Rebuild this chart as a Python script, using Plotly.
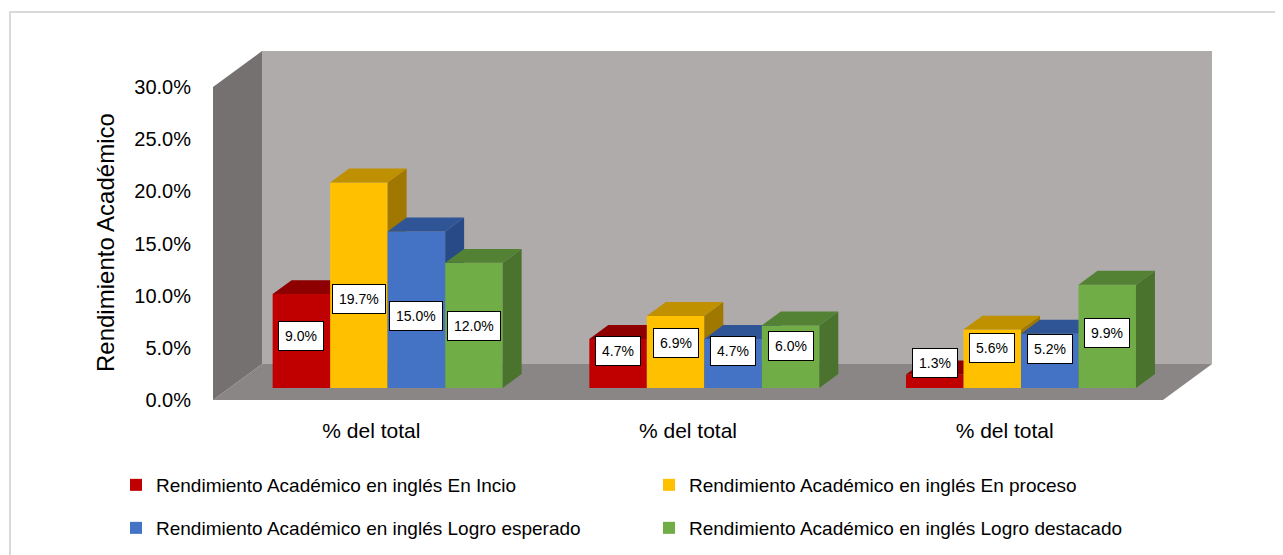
import plotly.graph_objects as go

# ---------------- data ----------------
categories = ["% del total", "% del total", "% del total"]
series_names = [
    "Rendimiento Académico en inglés En Incio",
    "Rendimiento Académico en inglés En proceso",
    "Rendimiento Académico en inglés Logro esperado",
    "Rendimiento Académico en inglés Logro destacado",
]
en_inicio = [9.0, 4.7, 1.3]
en_proceso = [19.7, 6.9, 5.6]
logro_esperado = [15.0, 4.7, 5.2]
logro_destacado = [12.0, 6.0, 9.9]
y_tick_values = [0, 5, 10, 15, 20, 25, 30]
y_tick_labels = ["0.0%", "5.0%", "10.0%", "15.0%", "20.0%", "25.0%", "30.0%"]
y_title = "Rendimiento Académico"

series_values = [en_inicio, en_proceso, logro_esperado, logro_destacado]

# ---------------- styles ----------------
front_colors = ["#C00000", "#FFC000", "#4472C4", "#70AD47"]
top_colors = ["#8E0000", "#BF9000", "#2F5597", "#548235"]
side_colors = ["#760000", "#A07800", "#284B87", "#4A732E"]
FONT = "Liberation Sans"

# ---------------- pseudo-3D geometry ----------------
OFF = 8                 # default page body margin
W, H = 1283 - OFF, 580  # page is cropped to the 1283x555 window
ML, MT = 213 - OFF, 40 - OFF
plot_w, plot_h = 1000, 370
MR = W - ML - plot_w
MB = H - MT - plot_h
PX_X = 316.67          # px per category (front plane)
PX_Y = 10.433          # px per percentage point
Y0_PX = 400 - OFF      # pixel row of 0 % on the front plane
KX = 49 / PX_X         # depth offset (x units) for full depth
KY = 36 / PX_Y         # depth offset (y units) for full depth
Z0, Z1 = 0.333, 0.72   # bar depth span
BW = 57.5 / PX_X       # bar width
GAP = (1 - 4 * BW) / 2
YMAX = y_tick_values[-1]
NCAT = len(categories)

x_range = [0, plot_w / PX_X]
y_range = [-(MT + plot_h - Y0_PX) / PX_Y, (Y0_PX - MT) / PX_Y]


def paper_x(ref_px):
    return (ref_px - OFF - ML) / plot_w


def paper_y(ref_px):
    return (MT + plot_h - (ref_px - OFF)) / plot_h


fig = go.Figure()


def poly(pts):
    xs = [p[0] for p in pts] + [pts[0][0]]
    ys = [p[1] for p in pts] + [pts[0][1]]
    return xs, ys


def add_poly(pts, color, xa="x", ya="y"):
    xs, ys = poly(pts)
    fig.add_trace(go.Scatter(x=xs, y=ys, mode="lines", fill="toself",
                             fillcolor=color, line=dict(width=0, color=color),
                             hoverinfo="skip", showlegend=False,
                             xaxis=xa, yaxis=ya))


# walls (base axes)
add_poly([(0, 0), (NCAT, 0), (NCAT + KX, KY), (KX, KY)], "#8A8685")          # floor
add_poly([(0, 0), (KX, KY), (KX, YMAX + KY), (0, YMAX)], "#767171")          # side wall
add_poly([(KX, KY), (NCAT + KX, KY), (NCAT + KX, YMAX + KY), (KX, YMAX + KY)], "#AFABAB")  # back wall

annotations = []
for j, (name, vals) in enumerate(zip(series_names, series_values)):
    xa = "x%d" % (j + 2)
    ya = "y%d" % (j + 2)
    xl = [i + GAP + j * BW for i in range(NCAT)]
    xr = [v + BW for v in xl]
    sx, sy, tx, ty = [], [], [], []
    for a, b, v in zip(xl, xr, vals):
        pts_s = [(b + Z0 * KX, Z0 * KY), (b + Z1 * KX, Z1 * KY),
                 (b + Z1 * KX, v + Z1 * KY), (b + Z0 * KX, v + Z0 * KY)]
        pts_t = [(a + Z0 * KX, v + Z0 * KY), (b + Z0 * KX, v + Z0 * KY),
                 (b + Z1 * KX, v + Z1 * KY), (a + Z1 * KX, v + Z1 * KY)]
        xs, ys = poly(pts_s)
        sx += xs + [None]
        sy += ys + [None]
        xs, ys = poly(pts_t)
        tx += xs + [None]
        ty += ys + [None]
    centers = [a + BW / 2 + Z0 * KX for a in xl]
    legend_id = "legend" if j < 2 else "legend2"
    fig.add_trace(go.Bar(x=centers, y=vals, base=[Z0 * KY] * NCAT, width=BW,
                         name=name, marker=dict(color=front_colors[j], line=dict(width=0)),
                         xaxis=xa, yaxis=ya, legend=legend_id, hoverinfo="skip"))
    fig.add_trace(go.Scatter(x=sx, y=sy, mode="lines", fill="toself",
                             fillcolor=side_colors[j], line=dict(width=0),
                             hoverinfo="skip", showlegend=False, xaxis=xa, yaxis=ya))
    fig.add_trace(go.Scatter(x=tx, y=ty, mode="lines", fill="toself",
                             fillcolor=top_colors[j], line=dict(width=0),
                             hoverinfo="skip", showlegend=False, xaxis=xa, yaxis=ya))
    for c, v in zip(centers, vals):
        annotations.append(dict(x=c, y=Z0 * KY + 2.0 + 0.33 * v, xref="x", yref="y",
                                text="%.1f%%" % v, showarrow=False,
                                font=dict(family=FONT, size=14, color="#000000"),
                                bgcolor="#FFFFFF", bordercolor="#000000",
                                borderwidth=1, borderpad=6))

annotations.append(dict(x=paper_x(106), y=paper_y(243), xref="paper", yref="paper",
                        xanchor="center", yanchor="middle",
                        text=y_title, textangle=-90, showarrow=False,
                        font=dict(family=FONT, size=24, color="#000000")))

layout_axes = {}
for k in range(2, 6):
    layout_axes["xaxis%d" % k] = dict(overlaying="x", range=x_range, visible=False, fixedrange=True)
    layout_axes["yaxis%d" % k] = dict(overlaying="y", range=y_range, visible=False, fixedrange=True)

legend_common = dict(orientation="h", x=-0.097, xanchor="left", yanchor="middle",
                     entrywidth=488, entrywidthmode="pixels",
                     font=dict(family=FONT, size=19, color="#000000"),
                     bgcolor="rgba(0,0,0,0)")

fig.update_layout(
    width=W, height=H,
    margin=dict(l=ML, r=MR, t=MT, b=MB),
    paper_bgcolor="#FFFFFF", plot_bgcolor="rgba(0,0,0,0)",
    barmode="overlay",
    font=dict(family=FONT, size=19, color="#000000"),
    xaxis=dict(range=x_range, tickvals=[i + 0.5 for i in range(NCAT)], ticktext=categories,
               showgrid=False, zeroline=False, showline=False, ticks="outside",
               ticklen=2, tickcolor="rgba(0,0,0,0)", tickfont=dict(size=21), fixedrange=True),
    yaxis=dict(range=y_range, tickvals=y_tick_values, ticktext=y_tick_labels,
               showgrid=False, zeroline=False, showline=False, ticks="outside",
               ticklen=17, tickcolor="rgba(0,0,0,0)", tickfont=dict(size=20), fixedrange=True),
    legend=dict(y=paper_y(485), **legend_common),
    legend2=dict(y=paper_y(528), **legend_common),
    annotations=annotations,
    shapes=[dict(type="rect", xref="paper", yref="paper",
                 x0=paper_x(10), x1=paper_x(1300),
                 y0=paper_y(590), y1=paper_y(12),
                 line=dict(color="#D9D9D9", width=2), fillcolor="rgba(0,0,0,0)", layer="below")],
    **layout_axes,
)

fig.write_html("out.html")
